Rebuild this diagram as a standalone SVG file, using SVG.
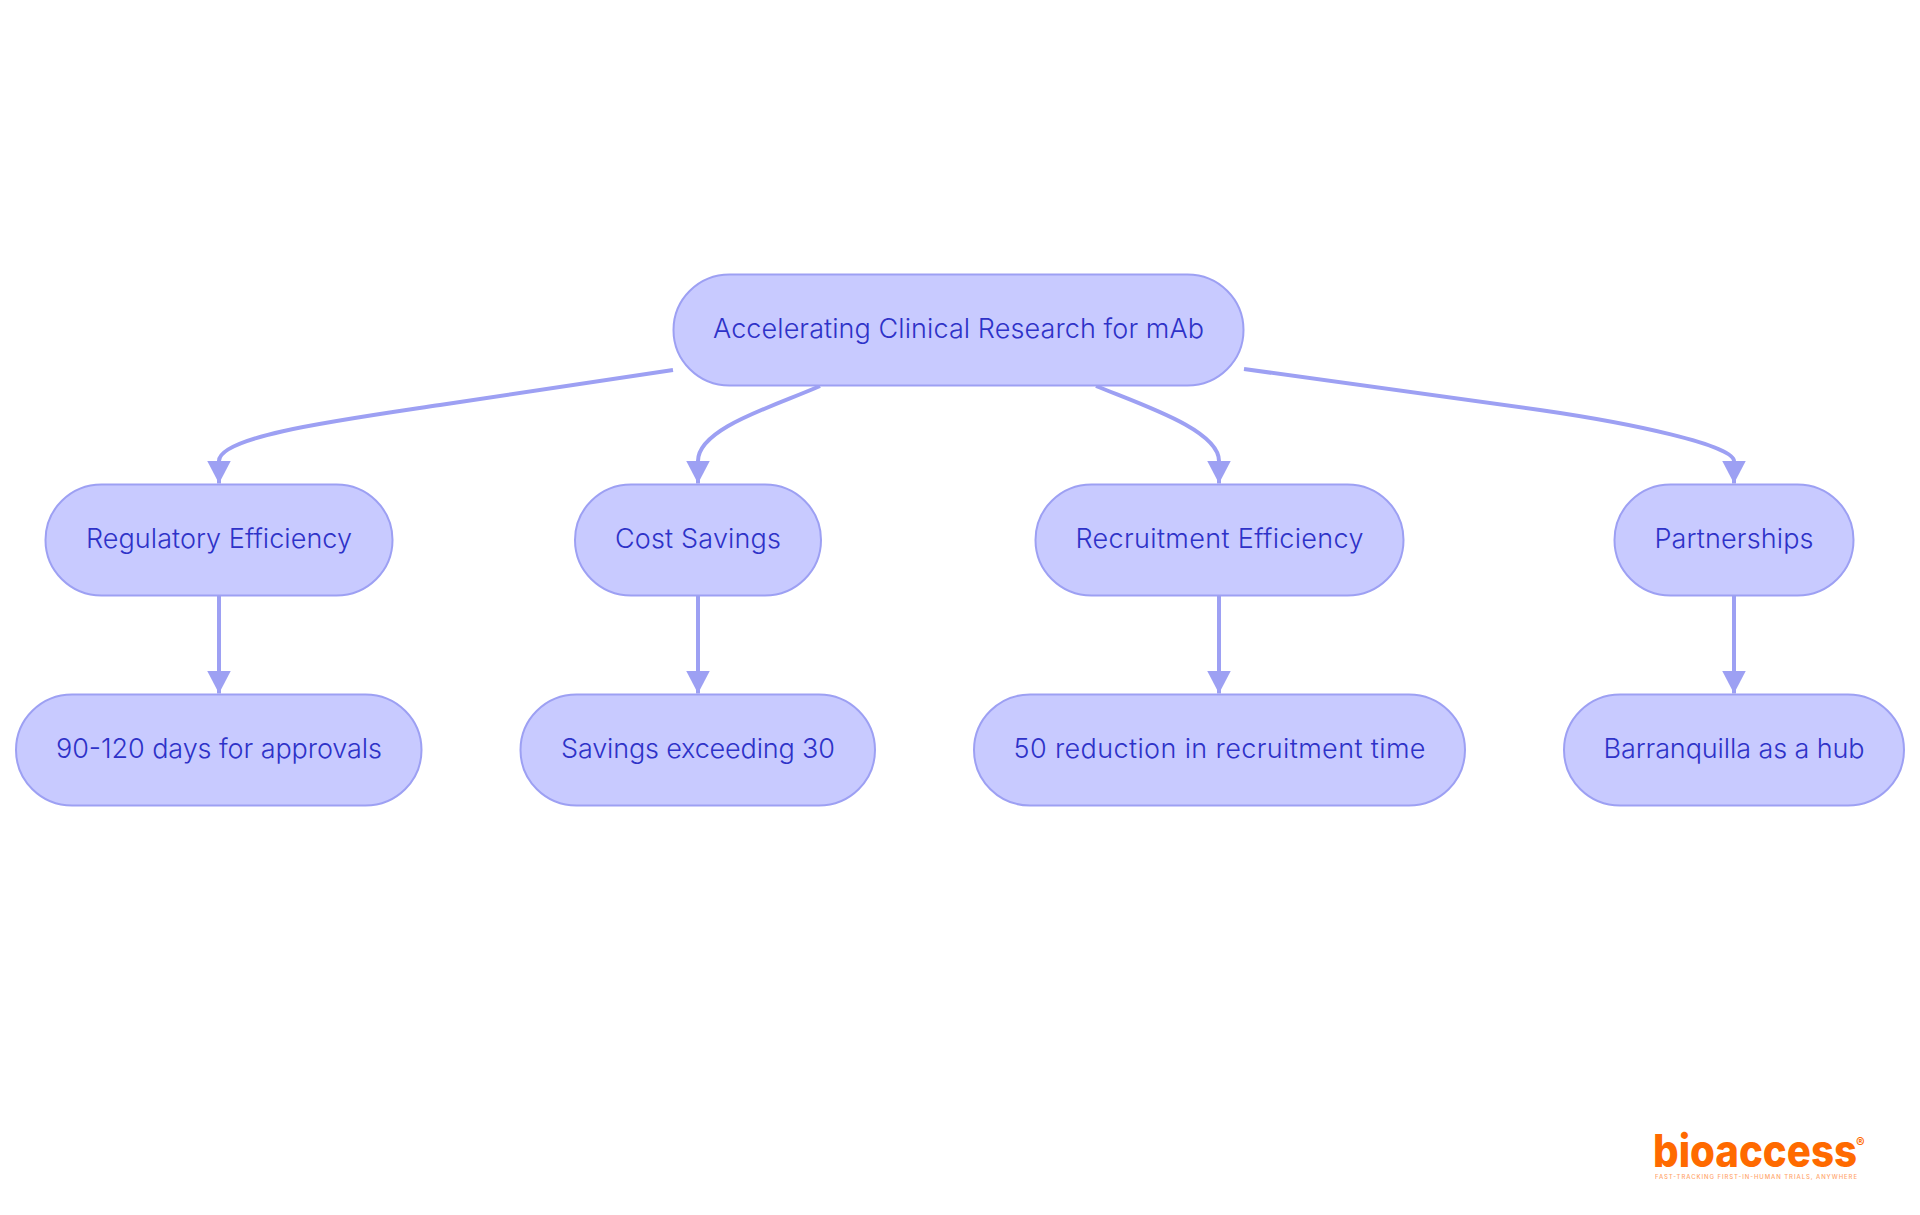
<svg xmlns="http://www.w3.org/2000/svg" width="1920" height="1215" viewBox="0 0 1920 1215">
<defs>
<marker id="arrow" markerUnits="userSpaceOnUse" markerWidth="26" markerHeight="26" refX="23" refY="12" orient="auto"><path d="M0 0L23 12L0 24Z" fill="#9da0f3"/></marker>
</defs>
<style>
.n rect{fill:#c8caff;stroke:#9da0f3;stroke-width:2}
.n text{font-family:"Inter","Noto Sans",sans-serif;font-size:27px;font-weight:300;fill:#2e32c8;text-anchor:middle}
.c path{fill:none;stroke:#9da0f3;stroke-width:4;marker-end:url(#arrow)}
.logo{font-family:"Inter","Liberation Sans",sans-serif;fill:#ff6a00}
</style>
<rect width="1920" height="1215" fill="#fff"/>
<g id="connectors" class="c">
<path d="M673 370L440 405C340 420 219 436 219 461V483.500"/>
<path d="M820 386C775 406 698 428 698 461V483.500"/>
<path d="M1096 386C1142 405 1219 430 1219 461V483.500"/>
<path d="M1244 369L1540 410C1630 423 1734 445 1734 461V483.500"/>
<path d="M219 596V693.500"/>
<path d="M698 596V693.500"/>
<path d="M1219 596V693.500"/>
<path d="M1734 596V693.500"/>
</g>
<g id="root" class="n"><rect x="673.500" y="274.500" width="570" height="111" rx="56" ry="56"/><text x="958.500" y="338" textLength="491" lengthAdjust="spacing">Accelerating Clinical Research for mAb</text></g>
<g id="reg" class="n"><rect x="45.500" y="484.500" width="347" height="111" rx="56" ry="56"/><text x="219" y="548" textLength="266" lengthAdjust="spacing">Regulatory Efficiency</text></g>
<g id="cost" class="n"><rect x="575" y="484.500" width="246" height="111" rx="56" ry="56"/><text x="698" y="548" textLength="166" lengthAdjust="spacing">Cost Savings</text></g>
<g id="recruit" class="n"><rect x="1035.500" y="484.500" width="368" height="111" rx="56" ry="56"/><text x="1219.500" y="548" textLength="288" lengthAdjust="spacing">Recruitment Efficiency</text></g>
<g id="part" class="n"><rect x="1614.500" y="484.500" width="239" height="111" rx="56" ry="56"/><text x="1734" y="548" textLength="159" lengthAdjust="spacing">Partnerships</text></g>
<g id="reg1" class="n"><rect x="16" y="694.500" width="405.500" height="111" rx="56" ry="56"/><text x="219" y="758" textLength="326" lengthAdjust="spacing">90-120 days for approvals</text></g>
<g id="cost1" class="n"><rect x="520.500" y="694.500" width="354.500" height="111" rx="56" ry="56"/><text x="698" y="758" textLength="274" lengthAdjust="spacing">Savings exceeding 30</text></g>
<g id="rec1" class="n"><rect x="974" y="694.500" width="491" height="111" rx="56" ry="56"/><text x="1219.500" y="758" textLength="412" lengthAdjust="spacing">50 reduction in recruitment time</text></g>
<g id="part1" class="n"><rect x="1564" y="694.500" width="340" height="111" rx="56" ry="56"/><text x="1734" y="758" textLength="261" lengthAdjust="spacing">Barranquilla as a hub</text></g>
<g id="brand">
<text class="logo" x="1653" y="1167" font-size="45" font-weight="800" textLength="204" lengthAdjust="spacingAndGlyphs">bioaccess</text>
<text class="logo" x="1856" y="1147" font-size="13" font-weight="700">®</text>
<text class="logo" x="1655" y="1179" font-size="6" font-weight="500" opacity=".6" textLength="202">FAST-TRACKING FIRST-IN-HUMAN TRIALS, ANYWHERE</text>
</g>
</svg>
